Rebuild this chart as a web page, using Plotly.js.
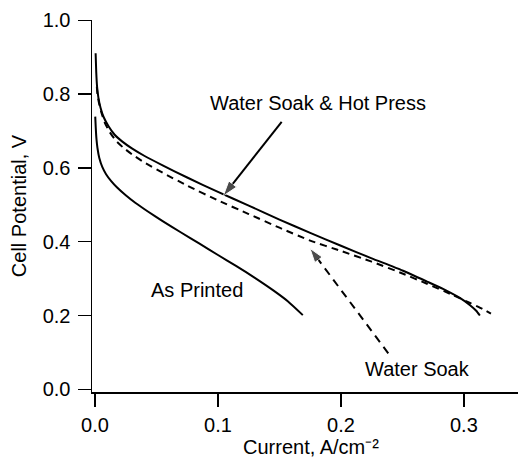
<!DOCTYPE html>
<html>
<head>
<meta charset="utf-8">
<script src="https://cdn.plot.ly/plotly-3.0.1.min.js"></script>
<style>html,body{margin:0;padding:0;background:#fff;}#chart{width:518px;height:457px;}</style>
</head>
<body>
<div id="chart"></div>
<script>
// Water Soak & Hot Press (solid)
var hpCurrent = [0.0005, 0.001, 0.0017, 0.0028, 0.0045, 0.007, 0.011, 0.016, 0.022, 0.03, 0.04, 0.055, 0.075, 0.1, 0.125, 0.15, 0.175, 0.2, 0.225, 0.25, 0.27, 0.285, 0.297, 0.305, 0.31, 0.313];
var hpVoltage = [0.911, 0.86, 0.82, 0.79, 0.763, 0.738, 0.713, 0.69, 0.672, 0.653, 0.633, 0.607, 0.574, 0.535, 0.498, 0.46, 0.424, 0.389, 0.355, 0.322, 0.292, 0.269, 0.247, 0.228, 0.213, 0.200];
// Water Soak (dashed)
var wsCurrent = [0.0015, 0.002, 0.003, 0.005, 0.008, 0.012, 0.017, 0.023, 0.03, 0.04, 0.055, 0.075, 0.1, 0.125, 0.15, 0.175, 0.2, 0.225, 0.25, 0.27, 0.29, 0.305, 0.315, 0.322];
var wsVoltage = [0.82, 0.80, 0.78, 0.752, 0.722, 0.697, 0.674, 0.655, 0.637, 0.615, 0.587, 0.552, 0.512, 0.475, 0.438, 0.403, 0.375, 0.346, 0.314, 0.286, 0.257, 0.234, 0.218, 0.205];
// As Printed (solid)
var apCurrent = [0.0002, 0.0006, 0.0012, 0.002, 0.0035, 0.006, 0.009, 0.013, 0.018, 0.025, 0.033, 0.043, 0.055, 0.07, 0.085, 0.1, 0.115, 0.13, 0.145, 0.157, 0.169];
var apVoltage = [0.739, 0.71, 0.678, 0.654, 0.627, 0.602, 0.583, 0.565, 0.547, 0.526, 0.505, 0.482, 0.456, 0.425, 0.395, 0.364, 0.334, 0.302, 0.268, 0.238, 0.201];

// Labels and arrows (tail -> head), in data units
var labelText = ["Water Soak & Hot Press", "As Printed", "Water Soak"];
var labelX = [0.181, 0.0829, 0.2622];
var labelY = [0.776, 0.269, 0.0564];
var hpArrowX = [0.1518, 0.1043];
var hpArrowY = [0.725, 0.524];
var wsArrowX = [0.2385, 0.1748];
var wsArrowY = [0.0976, 0.382];

var xTicks = [0, 0.1, 0.2, 0.3];
var yTicks = [0, 0.2, 0.4, 0.6, 0.8, 1.0];
var xTitle = 'Current, A/cm\u207B\u00B2';
var yTitle = 'Cell Potential, V';

var FONT = "Arial, 'Liberation Sans', Helvetica, sans-serif";

var traces = [
  {x: hpCurrent, y: hpVoltage, mode: 'lines', line: {color: '#000', width: 2, shape: 'spline', smoothing: 0.5}, hoverinfo: 'skip'},
  {x: wsCurrent, y: wsVoltage, mode: 'lines', line: {color: '#000', width: 2, dash: '7px,5px', shape: 'spline', smoothing: 0.5}, hoverinfo: 'skip'},
  {x: apCurrent, y: apVoltage, mode: 'lines', line: {color: '#000', width: 2, shape: 'spline', smoothing: 0.5}, hoverinfo: 'skip'},
  {x: hpArrowX, y: hpArrowY, mode: 'lines+markers', line: {color: '#000', width: 2},
   marker: {symbol: ['circle', 'arrow'], size: [0, 16], angleref: 'previous', color: '#000'}, hoverinfo: 'skip'},
  {x: wsArrowX, y: wsArrowY, mode: 'lines+markers', line: {color: '#000', width: 2, dash: '8px,6px'},
   marker: {symbol: ['circle', 'arrow'], size: [0, 15], angleref: 'previous', color: '#000'}, hoverinfo: 'skip'}
];

var annotations = labelText.map(function (t, i) {
  return {x: labelX[i], y: labelY[i], xref: 'x', yref: 'y', text: t, showarrow: false,
          xanchor: 'center', yanchor: 'middle', font: {family: FONT, size: 20, color: '#000'}};
});
// x-axis title placed just below the tick labels
annotations.push({x: 0.514, y: -0.1478, xref: 'paper', yref: 'paper', text: xTitle, showarrow: false,
                  xanchor: 'center', yanchor: 'middle', borderpad: 0, font: {family: FONT, size: 20, color: '#000'}});

var layout = {
  width: 518, height: 457,
  margin: {l: 92, r: 0, t: 20, b: 65},
  paper_bgcolor: '#fff', plot_bgcolor: '#fff',
  showlegend: false,
  font: {family: FONT, size: 20, color: '#000'},
  xaxis: {
    range: [-0.00244, 0.344], tickvals: xTicks, tickformat: '.1f',
    showline: true, linecolor: '#000', linewidth: 1.5, mirror: false,
    ticks: 'outside', ticklen: 13, tickwidth: 1.5, tickcolor: '#000',
    ticklabelstandoff: 1,
    showgrid: false, zeroline: false,
    tickfont: {family: FONT, size: 20, color: '#000'}
  },
  yaxis: {
    range: [-0.0073, 1.0009], tickvals: yTicks, tickformat: '.1f',
    showline: true, linecolor: '#000', linewidth: 1.5, mirror: false,
    ticks: 'outside', ticklen: 13, tickwidth: 1.5, tickcolor: '#000',
    ticklabelstandoff: 3,
    showgrid: false, zeroline: false,
    tickfont: {family: FONT, size: 20, color: '#000'},
    title: {text: yTitle, font: {family: FONT, size: 20, color: '#000'}, standoff: 10}
  },
  annotations: annotations
};

Plotly.newPlot('chart', traces, layout, {displayModeBar: false, staticPlot: true});
</script>
</body>
</html>
